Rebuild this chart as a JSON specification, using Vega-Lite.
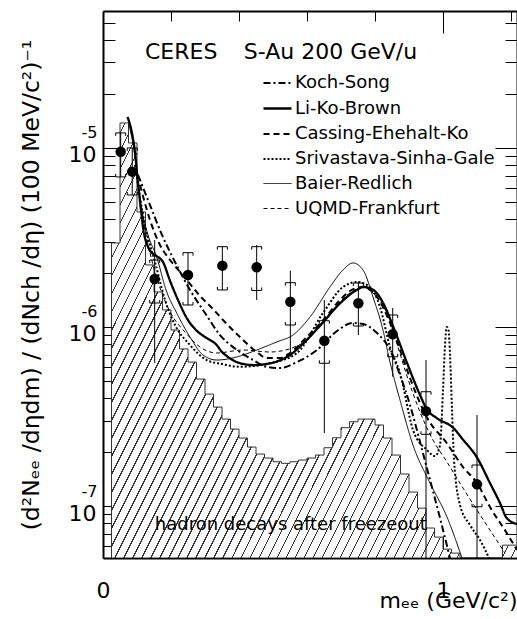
{
"$schema":"https://vega.github.io/schema/vega-lite/v6.json",
"width":414,"height":547,
"autosize":{"type":"none"},
"padding":{"left":103,"top":11,"right":0,"bottom":61},
"background":"white",
"config":{"view":{"stroke":null},"font":"DejaVu Sans","axis":{"grid":false,"labelColor":"black","titleColor":"black"}},
"datasets":{
"hist":[{"m":0.025,"v":2.946e-6},{"m":0.05,"v":1.379e-5},{"m":0.075,"v":1.066e-5},{"m":0.1,"v":4.39e-6},{"m":0.125,"v":2.221e-6},{"m":0.15,"v":1.569e-6},{"m":0.175,"v":1.245e-6},{"m":0.2,"v":9.62e-7},{"m":0.225,"v":7.54e-7},{"m":0.25,"v":6.37e-7},{"m":0.275,"v":5.12e-7},{"m":0.3,"v":4.22e-7},{"m":0.325,"v":3.57e-7},{"m":0.35,"v":3.06e-7},{"m":0.375,"v":2.69e-7},{"m":0.4,"v":2.398e-7},{"m":0.425,"v":2.136e-7},{"m":0.45,"v":1.952e-7},{"m":0.475,"v":1.854e-7},{"m":0.5,"v":1.768e-7},{"m":0.525,"v":1.732e-7},{"m":0.55,"v":1.768e-7},{"m":0.575,"v":1.807e-7},{"m":0.6,"v":1.854e-7},{"m":0.625,"v":1.927e-7},{"m":0.65,"v":2.117e-7},{"m":0.675,"v":2.407e-7},{"m":0.7,"v":2.738e-7},{"m":0.725,"v":2.957e-7},{"m":0.75,"v":3.06e-7},{"m":0.775,"v":3.06e-7},{"m":0.8,"v":2.836e-7},{"m":0.825,"v":2.398e-7},{"m":0.85,"v":1.927e-7},{"m":0.875,"v":1.51e-7},{"m":0.9,"v":1.197e-7},{"m":0.925,"v":9.74e-8},{"m":0.95,"v":7.54e-8},{"m":0.975,"v":6.71e-8},{"m":1.0,"v":5.75e-8},{"m":1.025,"v":5.46e-8},{"m":1.05,"v":5.128e-8},{"m":1.075,"v":5.128e-8},{"m":1.1,"v":5.128e-8},{"m":1.125,"v":5.128e-8},{"m":1.15,"v":5.128e-8},{"m":1.175,"v":6.05e-8},{"m":1.2,"v":6.05e-8},{"m":1.225,"v":6.05e-8}],
"curves":[
{"s":"Koch-Song","m":0.1029,"v":7.07e-6},{"s":"Koch-Song","m":0.1382,"v":4.8e-6},{"s":"Koch-Song","m":0.1735,"v":3.266e-6},{"s":"Koch-Song","m":0.2118,"v":2.307e-6},{"s":"Koch-Song","m":0.2559,"v":1.61e-6},{"s":"Koch-Song","m":0.3,"v":1.197e-6},{"s":"Koch-Song","m":0.3441,"v":9.02e-7},{"s":"Koch-Song","m":0.3941,"v":7.44e-7},{"s":"Koch-Song","m":0.4412,"v":6.54e-7},{"s":"Koch-Song","m":0.4824,"v":5.98e-7},{"s":"Koch-Song","m":0.5206,"v":5.9e-7},{"s":"Koch-Song","m":0.5706,"v":6.37e-7},{"s":"Koch-Song","m":0.6294,"v":7.44e-7},{"s":"Koch-Song","m":0.6882,"v":9.5e-7},{"s":"Koch-Song","m":0.7353,"v":1.053e-6},{"s":"Koch-Song","m":0.7647,"v":1.039e-6},{"s":"Koch-Song","m":0.8059,"v":9.26e-7},{"s":"Koch-Song","m":0.8441,"v":7.44e-7},{"s":"Koch-Song","m":0.8735,"v":5.39e-7},{"s":"Koch-Song","m":0.9029,"v":3.67e-7},{"s":"Koch-Song","m":0.9324,"v":2.278e-7},{"s":"Koch-Song","m":0.9618,"v":1.397e-7},{"s":"Koch-Song","m":0.9912,"v":8.57e-8},{"s":"Koch-Song","m":1.0206,"v":5.12e-8},
{"s":"Li-Ko-Brown","m":0.0721,"v":1.49e-5},{"s":"Li-Ko-Brown","m":0.0832,"v":1.261e-5},{"s":"Li-Ko-Brown","m":0.0932,"v":9.75e-6},{"s":"Li-Ko-Brown","m":0.1029,"v":6.38e-6},{"s":"Li-Ko-Brown","m":0.1118,"v":4.5e-6},{"s":"Li-Ko-Brown","m":0.1176,"v":3.62e-6},{"s":"Li-Ko-Brown","m":0.1324,"v":2.8e-6},{"s":"Li-Ko-Brown","m":0.1441,"v":2.59e-6},{"s":"Li-Ko-Brown","m":0.1568,"v":2.493e-6},{"s":"Li-Ko-Brown","m":0.1765,"v":2.307e-6},{"s":"Li-Ko-Brown","m":0.1962,"v":1.83e-6},{"s":"Li-Ko-Brown","m":0.2206,"v":1.415e-6},{"s":"Li-Ko-Brown","m":0.2462,"v":1.123e-6},{"s":"Li-Ko-Brown","m":0.2735,"v":9.62e-7},{"s":"Li-Ko-Brown","m":0.3,"v":8.79e-7},{"s":"Li-Ko-Brown","m":0.3344,"v":7.93e-7},{"s":"Li-Ko-Brown","m":0.35,"v":7.25e-7},{"s":"Li-Ko-Brown","m":0.3638,"v":6.89e-7},{"s":"Li-Ko-Brown","m":0.3932,"v":6.37e-7},{"s":"Li-Ko-Brown","m":0.4421,"v":6.13e-7},{"s":"Li-Ko-Brown","m":0.4912,"v":6.27e-7},{"s":"Li-Ko-Brown","m":0.55,"v":6.98e-7},{"s":"Li-Ko-Brown","m":0.5991,"v":8.46e-7},{"s":"Li-Ko-Brown","m":0.6479,"v":1.066e-6},{"s":"Li-Ko-Brown","m":0.6971,"v":1.356e-6},{"s":"Li-Ko-Brown","m":0.7462,"v":1.61e-6},{"s":"Li-Ko-Brown","m":0.7656,"v":1.673e-6},{"s":"Li-Ko-Brown","m":0.795,"v":1.61e-6},{"s":"Li-Ko-Brown","m":0.8244,"v":1.356e-6},{"s":"Li-Ko-Brown","m":0.8538,"v":1.0e-6},{"s":"Li-Ko-Brown","m":0.8932,"v":6.37e-7},{"s":"Li-Ko-Brown","m":0.9324,"v":4.17e-7},{"s":"Li-Ko-Brown","m":0.9521,"v":3.48e-7},{"s":"Li-Ko-Brown","m":0.9815,"v":3.1e-7},{"s":"Li-Ko-Brown","m":1.0303,"v":2.73e-7},{"s":"Li-Ko-Brown","m":1.0597,"v":2.337e-7},{"s":"Li-Ko-Brown","m":1.0991,"v":1.878e-7},{"s":"Li-Ko-Brown","m":1.1382,"v":1.344e-7},{"s":"Li-Ko-Brown","m":1.1676,"v":1.039e-7},{"s":"Li-Ko-Brown","m":1.1874,"v":8.57e-8},{"s":"Li-Ko-Brown","m":1.2176,"v":7.93e-8},
{"s":"Cassing-Ehehalt-Ko","m":0.1088,"v":6.21e-6},{"s":"Cassing-Ehehalt-Ko","m":0.1382,"v":3.96e-6},{"s":"Cassing-Ehehalt-Ko","m":0.1676,"v":2.871e-6},{"s":"Cassing-Ehehalt-Ko","m":0.1971,"v":2.367e-6},{"s":"Cassing-Ehehalt-Ko","m":0.2265,"v":2.029e-6},{"s":"Cassing-Ehehalt-Ko","m":0.2559,"v":1.739e-6},{"s":"Cassing-Ehehalt-Ko","m":0.2853,"v":1.49e-6},{"s":"Cassing-Ehehalt-Ko","m":0.3206,"v":1.277e-6},{"s":"Cassing-Ehehalt-Ko","m":0.3529,"v":1.094e-6},{"s":"Cassing-Ehehalt-Ko","m":0.4029,"v":8.79e-7},{"s":"Cassing-Ehehalt-Ko","m":0.4521,"v":7.25e-7},{"s":"Cassing-Ehehalt-Ko","m":0.4815,"v":6.71e-7},{"s":"Cassing-Ehehalt-Ko","m":0.5206,"v":6.71e-7},{"s":"Cassing-Ehehalt-Ko","m":0.55,"v":7.16e-7},{"s":"Cassing-Ehehalt-Ko","m":0.5991,"v":8.79e-7},{"s":"Cassing-Ehehalt-Ko","m":0.6479,"v":1.094e-6},{"s":"Cassing-Ehehalt-Ko","m":0.6971,"v":1.415e-6},{"s":"Cassing-Ehehalt-Ko","m":0.7265,"v":1.589e-6},{"s":"Cassing-Ehehalt-Ko","m":0.7618,"v":1.673e-6},{"s":"Cassing-Ehehalt-Ko","m":0.8059,"v":1.471e-6},{"s":"Cassing-Ehehalt-Ko","m":0.8441,"v":1.053e-6},{"s":"Cassing-Ehehalt-Ko","m":0.8735,"v":7.44e-7},{"s":"Cassing-Ehehalt-Ko","m":0.9029,"v":5.19e-7},{"s":"Cassing-Ehehalt-Ko","m":0.9324,"v":3.76e-7},{"s":"Cassing-Ehehalt-Ko","m":0.9521,"v":3.14e-7},{"s":"Cassing-Ehehalt-Ko","m":1.0109,"v":2.249e-7},{"s":"Cassing-Ehehalt-Ko","m":1.0588,"v":1.652e-7},{"s":"Cassing-Ehehalt-Ko","m":1.1,"v":1.344e-7},{"s":"Cassing-Ehehalt-Ko","m":1.1382,"v":9.87e-8},{"s":"Cassing-Ehehalt-Ko","m":1.1874,"v":7.07e-8},{"s":"Cassing-Ehehalt-Ko","m":1.2176,"v":5.68e-8},
{"s":"Srivastava-Sinha-Gale","m":0.0941,"v":8.04e-6},{"s":"Srivastava-Sinha-Gale","m":0.1235,"v":3.71e-6},{"s":"Srivastava-Sinha-Gale","m":0.1529,"v":2.307e-6},{"s":"Srivastava-Sinha-Gale","m":0.1824,"v":1.415e-6},{"s":"Srivastava-Sinha-Gale","m":0.2118,"v":1.026e-6},{"s":"Srivastava-Sinha-Gale","m":0.2559,"v":7.93e-7},{"s":"Srivastava-Sinha-Gale","m":0.305,"v":6.54e-7},{"s":"Srivastava-Sinha-Gale","m":0.35,"v":6.21e-7},{"s":"Srivastava-Sinha-Gale","m":0.4029,"v":6.0e-7},{"s":"Srivastava-Sinha-Gale","m":0.4912,"v":6.27e-7},{"s":"Srivastava-Sinha-Gale","m":0.5706,"v":7.16e-7},{"s":"Srivastava-Sinha-Gale","m":0.6471,"v":1.197e-6},{"s":"Srivastava-Sinha-Gale","m":0.7059,"v":1.673e-6},{"s":"Srivastava-Sinha-Gale","m":0.7471,"v":1.784e-6},{"s":"Srivastava-Sinha-Gale","m":0.7853,"v":1.673e-6},{"s":"Srivastava-Sinha-Gale","m":0.8147,"v":1.293e-6},{"s":"Srivastava-Sinha-Gale","m":0.8441,"v":7.73e-7},{"s":"Srivastava-Sinha-Gale","m":0.8735,"v":5.53e-7},{"s":"Srivastava-Sinha-Gale","m":0.9118,"v":2.66e-7},{"s":"Srivastava-Sinha-Gale","m":0.9529,"v":2.055e-7},{"s":"Srivastava-Sinha-Gale","m":0.9765,"v":1.902e-7},{"s":"Srivastava-Sinha-Gale","m":0.9912,"v":2.19e-7},{"s":"Srivastava-Sinha-Gale","m":1.0,"v":4.45e-7},{"s":"Srivastava-Sinha-Gale","m":1.0059,"v":7.93e-7},{"s":"Srivastava-Sinha-Gale","m":1.0109,"v":1.0e-6},{"s":"Srivastava-Sinha-Gale","m":1.0162,"v":9.62e-7},{"s":"Srivastava-Sinha-Gale","m":1.0206,"v":6.98e-7},{"s":"Srivastava-Sinha-Gale","m":1.0265,"v":3.44e-7},{"s":"Srivastava-Sinha-Gale","m":1.0324,"v":1.807e-7},{"s":"Srivastava-Sinha-Gale","m":1.05,"v":1.013e-7},{"s":"Srivastava-Sinha-Gale","m":1.0794,"v":7.83e-8},{"s":"Srivastava-Sinha-Gale","m":1.1088,"v":6.46e-8},{"s":"Srivastava-Sinha-Gale","m":1.1382,"v":4.99e-8},
{"s":"Baier-Redlich","m":0.0765,"v":1.344e-5},{"s":"Baier-Redlich","m":0.0912,"v":9.75e-6},{"s":"Baier-Redlich","m":0.1088,"v":5.12e-6},{"s":"Baier-Redlich","m":0.1324,"v":3.266e-6},{"s":"Baier-Redlich","m":0.1579,"v":2.461e-6},{"s":"Baier-Redlich","m":0.1853,"v":1.61e-6},{"s":"Baier-Redlich","m":0.2168,"v":1.197e-6},{"s":"Baier-Redlich","m":0.2559,"v":8.79e-7},{"s":"Baier-Redlich","m":0.2941,"v":6.98e-7},{"s":"Baier-Redlich","m":0.3344,"v":6.54e-7},{"s":"Baier-Redlich","m":0.3932,"v":6.8e-7},{"s":"Baier-Redlich","m":0.4521,"v":7.44e-7},{"s":"Baier-Redlich","m":0.5109,"v":8.25e-7},{"s":"Baier-Redlich","m":0.5588,"v":9.02e-7},{"s":"Baier-Redlich","m":0.6088,"v":1.137e-6},{"s":"Baier-Redlich","m":0.6676,"v":1.673e-6},{"s":"Baier-Redlich","m":0.7059,"v":2.082e-6},{"s":"Baier-Redlich","m":0.7353,"v":2.278e-6},{"s":"Baier-Redlich","m":0.7647,"v":2.082e-6},{"s":"Baier-Redlich","m":0.7941,"v":1.471e-6},{"s":"Baier-Redlich","m":0.8235,"v":9.62e-7},{"s":"Baier-Redlich","m":0.8441,"v":6.37e-7},{"s":"Baier-Redlich","m":0.8735,"v":3.91e-7},{"s":"Baier-Redlich","m":0.9118,"v":2.19e-7},{"s":"Baier-Redlich","m":0.9618,"v":1.344e-7},{"s":"Baier-Redlich","m":1.0118,"v":8.68e-8},{"s":"Baier-Redlich","m":1.0559,"v":5.12e-8},
{"s":"UQMD-Frankfurt","m":0.1088,"v":4.8e-6},{"s":"UQMD-Frankfurt","m":0.1471,"v":2.221e-6},{"s":"UQMD-Frankfurt","m":0.1874,"v":1.327e-6},{"s":"UQMD-Frankfurt","m":0.2462,"v":9.14e-7},{"s":"UQMD-Frankfurt","m":0.2853,"v":7.73e-7},{"s":"UQMD-Frankfurt","m":0.3344,"v":7.16e-7},{"s":"UQMD-Frankfurt","m":0.4118,"v":7.44e-7},{"s":"UQMD-Frankfurt","m":0.4912,"v":7.25e-7},{"s":"UQMD-Frankfurt","m":0.5882,"v":8.14e-7},{"s":"UQMD-Frankfurt","m":0.6676,"v":1.197e-6},{"s":"UQMD-Frankfurt","m":0.7265,"v":1.549e-6},{"s":"UQMD-Frankfurt","m":0.7647,"v":1.673e-6},{"s":"UQMD-Frankfurt","m":0.7941,"v":1.549e-6},{"s":"UQMD-Frankfurt","m":0.8344,"v":1.197e-6},{"s":"UQMD-Frankfurt","m":0.8638,"v":8.14e-7},{"s":"UQMD-Frankfurt","m":0.8932,"v":5.39e-7},{"s":"UQMD-Frankfurt","m":0.9324,"v":3.35e-7},{"s":"UQMD-Frankfurt","m":0.9706,"v":2.337e-7},{"s":"UQMD-Frankfurt","m":1.0118,"v":1.761e-7},{"s":"UQMD-Frankfurt","m":1.0588,"v":1.26e-7},{"s":"UQMD-Frankfurt","m":1.1,"v":9.5e-8},{"s":"UQMD-Frankfurt","m":1.1382,"v":7.34e-8},{"s":"UQMD-Frankfurt","m":1.1824,"v":5.46e-8}
],
"pts":[
{"m":0.052,"v":9.53e-6,"elo":6.89e-6,"ehi":1.213e-5,"slo":6.89e-6,"shi":1.213e-5},
{"m":0.086,"v":7.37e-6,"elo":5.46e-6,"ehi":1.0e-5,"slo":5.46e-6,"shi":1.0e-5},
{"m":0.152,"v":1.854e-6,"elo":6.3e-7,"ehi":3.062e-6,"slo":1.362e-6,"shi":2.367e-6},
{"m":0.25,"v":1.952e-6,"elo":1.327e-6,"ehi":2.601e-6,"slo":1.327e-6,"shi":2.601e-6},
{"m":0.351,"v":2.201e-6,"elo":1.61e-6,"ehi":2.809e-6,"slo":1.61e-6,"shi":2.809e-6},
{"m":0.452,"v":2.156e-6,"elo":1.415e-6,"ehi":2.871e-6,"slo":1.6e-6,"shi":2.809e-6},
{"m":0.551,"v":1.385e-6,"elo":6.82e-7,"ehi":2.063e-6,"slo":1.026e-6,"shi":1.768e-6},
{"m":0.651,"v":8.38e-7,"elo":2.56e-7,"ehi":1.415e-6,"slo":6.27e-7,"shi":1.084e-6},
{"m":0.751,"v":1.356e-6,"elo":9.02e-7,"ehi":1.791e-6,"slo":1.013e-6,"shi":1.761e-6},
{"m":0.852,"v":9.1e-7,"elo":5.28e-7,"ehi":1.277e-6,"slo":6.82e-7,"shi":1.167e-6},
{"m":0.95,"v":3.39e-7,"elo":4e-8,"ehi":6.54e-7,"slo":2.516e-7,"shi":4.35e-7},
{"m":1.1,"v":1.322e-7,"elo":4e-8,"ehi":3.224e-7,"slo":9.91e-8,"shi":1.695e-7}
]
},
"layer":[
{"data":{"name":"hist"},
 "mark":{"type":"area","interpolate":"step-after","clip":true,"stroke":"#333","strokeWidth":1,
  "fill":{"gradient":"linear","x1":0,"y1":0,"x2":1.194,"y2":0.636,"stops":[
{"offset":0.0062,"color":"#fff"},{"offset":0.0062,"color":"#333"},{"offset":0.0082,"color":"#333"},{"offset":0.0082,"color":"#fff"},
{"offset":0.0206,"color":"#fff"},{"offset":0.0206,"color":"#333"},{"offset":0.0226,"color":"#333"},{"offset":0.0226,"color":"#fff"},
{"offset":0.035,"color":"#fff"},{"offset":0.035,"color":"#333"},{"offset":0.037,"color":"#333"},{"offset":0.037,"color":"#fff"},
{"offset":0.0494,"color":"#fff"},{"offset":0.0494,"color":"#333"},{"offset":0.0514,"color":"#333"},{"offset":0.0514,"color":"#fff"},
{"offset":0.0638,"color":"#fff"},{"offset":0.0638,"color":"#333"},{"offset":0.0658,"color":"#333"},{"offset":0.0658,"color":"#fff"},
{"offset":0.0782,"color":"#fff"},{"offset":0.0782,"color":"#333"},{"offset":0.0802,"color":"#333"},{"offset":0.0802,"color":"#fff"},
{"offset":0.0926,"color":"#fff"},{"offset":0.0926,"color":"#333"},{"offset":0.0946,"color":"#333"},{"offset":0.0946,"color":"#fff"},
{"offset":0.107,"color":"#fff"},{"offset":0.107,"color":"#333"},{"offset":0.109,"color":"#333"},{"offset":0.109,"color":"#fff"},
{"offset":0.1214,"color":"#fff"},{"offset":0.1214,"color":"#333"},{"offset":0.1234,"color":"#333"},{"offset":0.1234,"color":"#fff"},
{"offset":0.1358,"color":"#fff"},{"offset":0.1358,"color":"#333"},{"offset":0.1378,"color":"#333"},{"offset":0.1378,"color":"#fff"},
{"offset":0.1502,"color":"#fff"},{"offset":0.1502,"color":"#333"},{"offset":0.1522,"color":"#333"},{"offset":0.1522,"color":"#fff"},
{"offset":0.1646,"color":"#fff"},{"offset":0.1646,"color":"#333"},{"offset":0.1666,"color":"#333"},{"offset":0.1666,"color":"#fff"},
{"offset":0.179,"color":"#fff"},{"offset":0.179,"color":"#333"},{"offset":0.181,"color":"#333"},{"offset":0.181,"color":"#fff"},
{"offset":0.1934,"color":"#fff"},{"offset":0.1934,"color":"#333"},{"offset":0.1954,"color":"#333"},{"offset":0.1954,"color":"#fff"},
{"offset":0.2078,"color":"#fff"},{"offset":0.2078,"color":"#333"},{"offset":0.2098,"color":"#333"},{"offset":0.2098,"color":"#fff"},
{"offset":0.2222,"color":"#fff"},{"offset":0.2222,"color":"#333"},{"offset":0.2242,"color":"#333"},{"offset":0.2242,"color":"#fff"},
{"offset":0.2366,"color":"#fff"},{"offset":0.2366,"color":"#333"},{"offset":0.2386,"color":"#333"},{"offset":0.2386,"color":"#fff"},
{"offset":0.251,"color":"#fff"},{"offset":0.251,"color":"#333"},{"offset":0.253,"color":"#333"},{"offset":0.253,"color":"#fff"},
{"offset":0.2654,"color":"#fff"},{"offset":0.2654,"color":"#333"},{"offset":0.2674,"color":"#333"},{"offset":0.2674,"color":"#fff"},
{"offset":0.2798,"color":"#fff"},{"offset":0.2798,"color":"#333"},{"offset":0.2818,"color":"#333"},{"offset":0.2818,"color":"#fff"},
{"offset":0.2942,"color":"#fff"},{"offset":0.2942,"color":"#333"},{"offset":0.2962,"color":"#333"},{"offset":0.2962,"color":"#fff"},
{"offset":0.3086,"color":"#fff"},{"offset":0.3086,"color":"#333"},{"offset":0.3106,"color":"#333"},{"offset":0.3106,"color":"#fff"},
{"offset":0.323,"color":"#fff"},{"offset":0.323,"color":"#333"},{"offset":0.325,"color":"#333"},{"offset":0.325,"color":"#fff"},
{"offset":0.3374,"color":"#fff"},{"offset":0.3374,"color":"#333"},{"offset":0.3394,"color":"#333"},{"offset":0.3394,"color":"#fff"},
{"offset":0.3518,"color":"#fff"},{"offset":0.3518,"color":"#333"},{"offset":0.3538,"color":"#333"},{"offset":0.3538,"color":"#fff"},
{"offset":0.3662,"color":"#fff"},{"offset":0.3662,"color":"#333"},{"offset":0.3682,"color":"#333"},{"offset":0.3682,"color":"#fff"},
{"offset":0.3806,"color":"#fff"},{"offset":0.3806,"color":"#333"},{"offset":0.3826,"color":"#333"},{"offset":0.3826,"color":"#fff"},
{"offset":0.395,"color":"#fff"},{"offset":0.395,"color":"#333"},{"offset":0.397,"color":"#333"},{"offset":0.397,"color":"#fff"},
{"offset":0.4094,"color":"#fff"},{"offset":0.4094,"color":"#333"},{"offset":0.4114,"color":"#333"},{"offset":0.4114,"color":"#fff"},
{"offset":0.4238,"color":"#fff"},{"offset":0.4238,"color":"#333"},{"offset":0.4258,"color":"#333"},{"offset":0.4258,"color":"#fff"},
{"offset":0.4382,"color":"#fff"},{"offset":0.4382,"color":"#333"},{"offset":0.4402,"color":"#333"},{"offset":0.4402,"color":"#fff"},
{"offset":0.4526,"color":"#fff"},{"offset":0.4526,"color":"#333"},{"offset":0.4546,"color":"#333"},{"offset":0.4546,"color":"#fff"},
{"offset":0.467,"color":"#fff"},{"offset":0.467,"color":"#333"},{"offset":0.469,"color":"#333"},{"offset":0.469,"color":"#fff"},
{"offset":0.4814,"color":"#fff"},{"offset":0.4814,"color":"#333"},{"offset":0.4834,"color":"#333"},{"offset":0.4834,"color":"#fff"},
{"offset":0.4958,"color":"#fff"},{"offset":0.4958,"color":"#333"},{"offset":0.4978,"color":"#333"},{"offset":0.4978,"color":"#fff"},
{"offset":0.5102,"color":"#fff"},{"offset":0.5102,"color":"#333"},{"offset":0.5122,"color":"#333"},{"offset":0.5122,"color":"#fff"},
{"offset":0.5246,"color":"#fff"},{"offset":0.5246,"color":"#333"},{"offset":0.5266,"color":"#333"},{"offset":0.5266,"color":"#fff"},
{"offset":0.539,"color":"#fff"},{"offset":0.539,"color":"#333"},{"offset":0.541,"color":"#333"},{"offset":0.541,"color":"#fff"},
{"offset":0.5534,"color":"#fff"},{"offset":0.5534,"color":"#333"},{"offset":0.5554,"color":"#333"},{"offset":0.5554,"color":"#fff"},
{"offset":0.5678,"color":"#fff"},{"offset":0.5678,"color":"#333"},{"offset":0.5698,"color":"#333"},{"offset":0.5698,"color":"#fff"},
{"offset":0.5822,"color":"#fff"},{"offset":0.5822,"color":"#333"},{"offset":0.5842,"color":"#333"},{"offset":0.5842,"color":"#fff"},
{"offset":0.5966,"color":"#fff"},{"offset":0.5966,"color":"#333"},{"offset":0.5986,"color":"#333"},{"offset":0.5986,"color":"#fff"},
{"offset":0.611,"color":"#fff"},{"offset":0.611,"color":"#333"},{"offset":0.613,"color":"#333"},{"offset":0.613,"color":"#fff"},
{"offset":0.6254,"color":"#fff"},{"offset":0.6254,"color":"#333"},{"offset":0.6274,"color":"#333"},{"offset":0.6274,"color":"#fff"},
{"offset":0.6398,"color":"#fff"},{"offset":0.6398,"color":"#333"},{"offset":0.6418,"color":"#333"},{"offset":0.6418,"color":"#fff"},
{"offset":0.6542,"color":"#fff"},{"offset":0.6542,"color":"#333"},{"offset":0.6562,"color":"#333"},{"offset":0.6562,"color":"#fff"},
{"offset":0.6686,"color":"#fff"},{"offset":0.6686,"color":"#333"},{"offset":0.6706,"color":"#333"},{"offset":0.6706,"color":"#fff"},
{"offset":0.683,"color":"#fff"},{"offset":0.683,"color":"#333"},{"offset":0.685,"color":"#333"},{"offset":0.685,"color":"#fff"},
{"offset":0.6974,"color":"#fff"},{"offset":0.6974,"color":"#333"},{"offset":0.6994,"color":"#333"},{"offset":0.6994,"color":"#fff"},
{"offset":0.7118,"color":"#fff"},{"offset":0.7118,"color":"#333"},{"offset":0.7138,"color":"#333"},{"offset":0.7138,"color":"#fff"},
{"offset":0.7262,"color":"#fff"},{"offset":0.7262,"color":"#333"},{"offset":0.7282,"color":"#333"},{"offset":0.7282,"color":"#fff"},
{"offset":0.7406,"color":"#fff"},{"offset":0.7406,"color":"#333"},{"offset":0.7426,"color":"#333"},{"offset":0.7426,"color":"#fff"},
{"offset":0.755,"color":"#fff"},{"offset":0.755,"color":"#333"},{"offset":0.757,"color":"#333"},{"offset":0.757,"color":"#fff"},
{"offset":0.7694,"color":"#fff"},{"offset":0.7694,"color":"#333"},{"offset":0.7714,"color":"#333"},{"offset":0.7714,"color":"#fff"},
{"offset":0.7838,"color":"#fff"},{"offset":0.7838,"color":"#333"},{"offset":0.7858,"color":"#333"},{"offset":0.7858,"color":"#fff"},
{"offset":0.7982,"color":"#fff"},{"offset":0.7982,"color":"#333"},{"offset":0.8002,"color":"#333"},{"offset":0.8002,"color":"#fff"},
{"offset":0.8126,"color":"#fff"},{"offset":0.8126,"color":"#333"},{"offset":0.8146,"color":"#333"},{"offset":0.8146,"color":"#fff"},
{"offset":0.827,"color":"#fff"},{"offset":0.827,"color":"#333"},{"offset":0.829,"color":"#333"},{"offset":0.829,"color":"#fff"},
{"offset":0.8414,"color":"#fff"},{"offset":0.8414,"color":"#333"},{"offset":0.8434,"color":"#333"},{"offset":0.8434,"color":"#fff"},
{"offset":0.8558,"color":"#fff"},{"offset":0.8558,"color":"#333"},{"offset":0.8578,"color":"#333"},{"offset":0.8578,"color":"#fff"},
{"offset":0.8702,"color":"#fff"},{"offset":0.8702,"color":"#333"},{"offset":0.8722,"color":"#333"},{"offset":0.8722,"color":"#fff"},
{"offset":0.8846,"color":"#fff"},{"offset":0.8846,"color":"#333"},{"offset":0.8866,"color":"#333"},{"offset":0.8866,"color":"#fff"},
{"offset":0.899,"color":"#fff"},{"offset":0.899,"color":"#333"},{"offset":0.901,"color":"#333"},{"offset":0.901,"color":"#fff"},
{"offset":0.9134,"color":"#fff"},{"offset":0.9134,"color":"#333"},{"offset":0.9154,"color":"#333"},{"offset":0.9154,"color":"#fff"},
{"offset":0.9278,"color":"#fff"},{"offset":0.9278,"color":"#333"},{"offset":0.9298,"color":"#333"},{"offset":0.9298,"color":"#fff"},
{"offset":0.9422,"color":"#fff"},{"offset":0.9422,"color":"#333"},{"offset":0.9442,"color":"#333"},{"offset":0.9442,"color":"#fff"},
{"offset":0.9566,"color":"#fff"},{"offset":0.9566,"color":"#333"},{"offset":0.9586,"color":"#333"},{"offset":0.9586,"color":"#fff"},
{"offset":0.971,"color":"#fff"},{"offset":0.971,"color":"#333"},{"offset":0.973,"color":"#333"},{"offset":0.973,"color":"#fff"},
{"offset":0.9854,"color":"#fff"},{"offset":0.9854,"color":"#333"},{"offset":0.9874,"color":"#333"},{"offset":0.9874,"color":"#fff"}
]}},
 "encoding":{
  "x":{"field":"m","type":"quantitative","scale":{"domain":[0,1.2176],"nice":false,"zero":false},
   "axis":{"orient":"bottom","values":[0.2,0.4,0.6,0.8,1.2],"tickSize":-10,"tickColor":"black","tickWidth":1,"labels":false,"domain":false,"title":null}},
  "y":{"field":"v","type":"quantitative","scale":{"type":"log","domain":[5.128e-8,5.817e-5],"nice":false},
   "axis":{"orient":"left","values":[6e-8,7e-8,8e-8,9e-8,2e-7,3e-7,4e-7,5e-7,6e-7,7e-7,8e-7,9e-7,2e-6,3e-6,4e-6,5e-6,6e-6,7e-6,8e-6,9e-6,2e-5,3e-5,4e-5,5e-5],"tickSize":-12,"tickColor":"black","tickWidth":1,"labels":false,"domain":false,"title":null}},
  "y2":{"datum":5.128e-8}
 }},
{"data":{"name":"curves"},
 "mark":{"type":"line","clip":true,"color":"black","interpolate":"monotone"},
 "encoding":{
  "x":{"field":"m","type":"quantitative","scale":{"domain":[0,1.2176],"nice":false,"zero":false},
   "axis":{"orient":"top","values":[0.2,0.4,0.6,0.8,1.2],"tickSize":-10,"tickColor":"black","tickWidth":1,"labels":false,"domain":false,"title":null}},
  "y":{"field":"v","type":"quantitative","scale":{"type":"log","domain":[5.128e-8,5.817e-5],"nice":false},
   "axis":{"orient":"right","values":[6e-8,7e-8,8e-8,9e-8,2e-7,3e-7,4e-7,5e-7,6e-7,7e-7,8e-7,9e-7,2e-6,3e-6,4e-6,5e-6,6e-6,7e-6,8e-6,9e-6,2e-5,3e-5,4e-5,5e-5],"tickSize":-12,"tickColor":"black","tickWidth":1,"labels":false,"domain":false,"title":null}},
  "strokeDash":{"field":"s","type":"nominal",
   "scale":{"domain":["Koch-Song","Li-Ko-Brown","Cassing-Ehehalt-Ko","Srivastava-Sinha-Gale","Baier-Redlich","UQMD-Frankfurt"],"range":[[7,3,2,3],[1,0],[6,4],[2,2],[1,0],[4,3]]},
   "legend":{"title":null,"orient":"none","legendX":159,"legendY":57,"labelFontSize":18,"labelFont":"DejaVu Sans","labelColor":"black","labelLimit":400,"symbolSize":784,"labelOffset":2,"rowPadding":1,"padding":0,"symbolType":"stroke","symbolStrokeColor":"black"}},
  "strokeWidth":{"field":"s","type":"nominal",
   "scale":{"type":"ordinal","domain":["Koch-Song","Li-Ko-Brown","Cassing-Ehehalt-Ko","Srivastava-Sinha-Gale","Baier-Redlich","UQMD-Frankfurt"],"range":[2,2.3,2,2,1,1]},
   "legend":{"title":null,"orient":"none","legendX":159,"legendY":57,"labelFontSize":18,"labelFont":"DejaVu Sans","labelColor":"black","labelLimit":400,"symbolSize":784,"labelOffset":2,"rowPadding":1,"padding":0,"symbolType":"stroke","symbolStrokeColor":"black"}}
 }},
{"data":{"name":"pts"},
 "mark":{"type":"rule","clip":true,"color":"black","strokeWidth":1},
 "encoding":{
  "x":{"field":"m","type":"quantitative","scale":{"domain":[0,1.2176],"nice":false,"zero":false},
   "axis":{"orient":"bottom","values":[0,1],"tickSize":-22,"tickColor":"black","tickWidth":1,"labels":false,"domain":true,"domainColor":"black","domainWidth":2,"title":null}},
  "y":{"field":"elo","type":"quantitative","scale":{"type":"log","domain":[5.128e-8,5.817e-5],"nice":false},
   "axis":{"orient":"left","values":[1e-7,1e-6,1e-5],"tickSize":-22,"tickColor":"black","tickWidth":1,"labels":false,"domain":true,"domainColor":"black","domainWidth":2,"title":null}},
  "y2":{"field":"ehi"}
 }},
{"data":{"name":"pts"},
 "mark":{"type":"point","shape":"M-1,0.6L-1,0L1,0L1,0.6","filled":false,"stroke":"black","strokeWidth":1,"size":100,"opacity":1,"clip":true},
 "encoding":{
  "x":{"field":"m","type":"quantitative","scale":{"domain":[0,1.2176],"nice":false,"zero":false},
   "axis":{"orient":"top","values":[0,1],"tickSize":-22,"tickColor":"black","tickWidth":1,"labels":false,"domain":true,"domainColor":"black","domainWidth":2,"title":null}},
  "y":{"field":"shi","type":"quantitative","scale":{"type":"log","domain":[5.128e-8,5.817e-5],"nice":false},
   "axis":{"orient":"right","values":[1e-7,1e-6,1e-5],"tickSize":-22,"tickColor":"black","tickWidth":1,"labels":false,"domain":true,"domainColor":"black","domainWidth":2,"title":null}}
 }},
{"data":{"name":"pts"},
 "mark":{"type":"point","shape":"M-1,-0.6L-1,0L1,0L1,-0.6","filled":false,"stroke":"black","strokeWidth":1,"size":100,"opacity":1,"clip":true},
 "encoding":{
  "x":{"field":"m","type":"quantitative","scale":{"domain":[0,1.2176],"nice":false,"zero":false},
   "axis":{"orient":"bottom","values":[0,1],"ticks":false,"tickSize":0,"domain":false,"labelFontSize":22,"labelFont":"DejaVu Sans","labelPadding":22,"labelFlush":false,"labelOverlap":false,"labelExpr":"datum.value == 0 ? '0' : '1'",
    "title":"mₑₑ (GeV/c²)","titleFont":"DejaVu Sans","titleFontSize":22,"titleFontWeight":"normal","titleX":414,"titleY":42,"titleAlign":"right","titleBaseline":"middle","titleAngle":0}},
  "y":{"field":"slo","type":"quantitative","scale":{"type":"log","domain":[5.128e-8,5.817e-5],"nice":false},
   "axis":{"orient":"left","values":[1e-7,1e-6,1e-5],"ticks":false,"tickSize":0,"domain":false,"labelFontSize":22,"labelFont":"DejaVu Sans","labelPadding":7,"labelOffset":7,"labelFlush":false,"labelOverlap":false,"labelExpr":"'10'",
    "title":"(d²Nₑₑ /dηdm) / (dNch /dη) (100 MeV/c²)⁻¹","titleFont":"DejaVu Sans","titleFontSize":23.5,"titleFontWeight":"normal","titleX":-72,"titleY":273.5,"titleAngle":-90,"titleAlign":"center","titleBaseline":"middle"}}
 }},
{"data":{"name":"pts"},
 "mark":{"type":"point","shape":"circle","filled":true,"color":"black","size":110,"opacity":1,"clip":true},
 "encoding":{
  "x":{"field":"m","type":"quantitative","scale":{"domain":[0,1.2176],"nice":false,"zero":false},"axis":null},
  "y":{"field":"v","type":"quantitative","scale":{"type":"log","domain":[5.128e-8,5.817e-5],"nice":false},
   "axis":{"orient":"left","values":[1e-7,1e-6,1e-5],"ticks":false,"tickSize":0,"domain":false,"labelFontSize":16,"labelFont":"DejaVu Sans","labelPadding":6,"labelOffset":-15,"labelFlush":false,"labelOverlap":false,"labelExpr":"'' + round(log(datum.value)/LN10)","title":null}}
 }},
{"data":{"values":[{}]},
 "mark":{"type":"text","text":"CERES\u2003\u2009S-Au 200 GeV/u","align":"left","baseline":"middle","font":"DejaVu Sans","fontSize":22,"color":"black"},
 "encoding":{"x":{"datum":0.1235,"type":"quantitative","scale":{"domain":[0,1.2176],"nice":false,"zero":false},"axis":null},"y":{"datum":3.45e-5,"type":"quantitative","scale":{"type":"log","domain":[5.128e-8,5.817e-5],"nice":false},"axis":null}}},
{"data":{"values":[{}]},
 "mark":{"type":"text","text":"hadron decays after freezeout","align":"center","baseline":"middle","font":"DejaVu Sans","fontSize":18,"color":"black"},
 "encoding":{"x":{"datum":0.5524,"type":"quantitative","scale":{"domain":[0,1.2176],"nice":false,"zero":false},"axis":null},"y":{"datum":7.83e-8,"type":"quantitative","scale":{"type":"log","domain":[5.128e-8,5.817e-5],"nice":false},"axis":null}}}
],
"resolve":{"axis":{"x":"independent","y":"independent"}}
}
